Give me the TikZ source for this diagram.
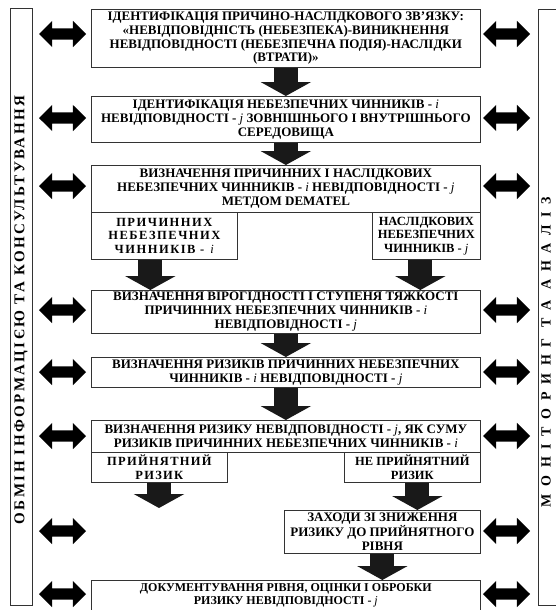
\documentclass[tikz,border=0pt]{standalone}
\usepackage{fontspec}
\setmainfont{Liberation Serif}
\usepackage{tikz}
\usetikzlibrary{positioning, shapes.arrows, arrows.meta}

\newcommand{\idx}[1]{\textnormal{\itshape #1}}

\begin{document}
\begin{tikzpicture}[x=1pt, y=-1pt]
    \tikzstyle{mainbox} = [rectangle, draw=black!80, line width=0.7pt, anchor=north west, align=center, inner sep=0pt, font=\bfseries\fontsize{13}{13.8}\selectfont]
    \tikzstyle{subbox} = [mainbox, font=\bfseries\fontsize{12.5}{13.6}\selectfont]
    \tikzstyle{sidebox} = [rectangle, draw=black!80, line width=0.7pt, inner sep=0pt]
    \tikzstyle{sidetext} = [rotate=90, font=\bfseries\fontsize{15}{16}\selectfont\addfontfeatures{LetterSpace=16}]
    \tikzstyle{dblarrow} = [double arrow, fill=black, draw=none, inner xsep=0pt, inner ysep=5.5pt, minimum height=47pt, double arrow head extend=7.5pt]
    \tikzstyle{blockarrow} = [line width=24pt, black!90, -{Triangle[width=50pt, length=14pt]}]

    \useasboundingbox (0,0) rectangle (555,610);

    % Side boxes
    \node (exchange) [sidebox, anchor=north west, minimum width=22pt, minimum height=597pt] at (10,8) {};
    \node (monitor) [sidebox, anchor=north west, minimum width=22pt, minimum height=596pt] at (538,9) {};
    \node (exchange_t) [sidetext] at (21,310) {ОБМІН ІНФОРМАЦІЄЮ ТА КОНСУЛЬТУВАННЯ};
    \node (monitor_t) [sidetext, font=\bfseries\fontsize{14}{16}\selectfont\addfontfeatures{LetterSpace=55}] at (546,352) {МОНІТОРИНГ ТА АНАЛІЗ};

    % Nodes
    \node (cause) [mainbox, minimum width=389pt, minimum height=58pt] at (91,9) {ІДЕНТИФІКАЦІЯ ПРИЧИНО-НАСЛІДКОВОГО ЗВ’ЯЗКУ:\\
        «НЕВІДПОВІДНІСТЬ (НЕБЕЗПЕКА)-ВИНИКНЕННЯ\\
        НЕВІДПОВІДНОСТІ (НЕБЕЗПЕЧНА ПОДІЯ)-НАСЛІДКИ\\
        (ВТРАТИ)»};
    \node (factors) [mainbox, minimum width=389pt, minimum height=46pt] at (91,96) {ІДЕНТИФІКАЦІЯ НЕБЕЗПЕЧНИХ ЧИННИКІВ - \idx{i}\\
        НЕВІДПОВІДНОСТІ - \idx{j} ЗОВНІШНЬОГО І ВНУТРІШНЬОГО\\
        СЕРЕДОВИЩА};
    \node (dematel) [mainbox, minimum width=389pt, minimum height=47pt] at (91,165) {ВИЗНАЧЕННЯ ПРИЧИННИХ І НАСЛІДКОВИХ\\
        НЕБЕЗПЕЧНИХ ЧИННИКІВ - \idx{i} НЕВІДПОВІДНОСТІ - \idx{j}\\
        МЕТДОМ DEMATEL};
    \node (causal) [subbox, minimum width=146pt, minimum height=47pt, font=\bfseries\fontsize{12.5}{13.6}\selectfont\addfontfeatures{LetterSpace=12}] at (91,212) {ПРИЧИННИХ\\ НЕБЕЗПЕЧНИХ\\ ЧИННИКІВ - \idx{i}};
    \node (effect) [subbox, minimum width=108pt, minimum height=47pt] at (372,212) {НАСЛІДКОВИХ\\ НЕБЕЗПЕЧНИХ\\ ЧИННИКІВ - \idx{j}};
    \node (severity) [mainbox, minimum width=389pt, minimum height=43pt] at (91,290) {ВИЗНАЧЕННЯ ВІРОГІДНОСТІ І СТУПЕНЯ ТЯЖКОСТІ\\
        ПРИЧИННИХ НЕБЕЗПЕЧНИХ ЧИННИКІВ - \idx{i}\\
        НЕВІДПОВІДНОСТІ - \idx{j}};
    \node (risks) [mainbox, minimum width=389pt, minimum height=30pt] at (91,357) {ВИЗНАЧЕННЯ РИЗИКІВ ПРИЧИННИХ НЕБЕЗПЕЧНИХ\\
        ЧИННИКІВ - \idx{i} НЕВІДПОВІДНОСТІ - \idx{j}};
    \node (total) [mainbox, minimum width=389pt, minimum height=32pt] at (91,420) {ВИЗНАЧЕННЯ РИЗИКУ НЕВІДПОВІДНОСТІ - \idx{j}, ЯК СУМУ\\
        РИЗИКІВ ПРИЧИННИХ НЕБЕЗПЕЧНИХ ЧИННИКІВ - \idx{i}};
    \node (accept) [subbox, minimum width=136pt, minimum height=30pt, font=\bfseries\fontsize{12.5}{13.6}\selectfont\addfontfeatures{LetterSpace=10}] at (91,452) {ПРИЙНЯТНИЙ\\ РИЗИК};
    \node (reject) [subbox, minimum width=136pt, minimum height=30pt] at (344,452) {НЕ ПРИЙНЯТНИЙ\\ РИЗИК};
    \node (reduce) [mainbox, minimum width=196pt, minimum height=43pt] at (284,510) {ЗАХОДИ ЗІ ЗНИЖЕННЯ\\ РИЗИКУ ДО ПРИЙНЯТНОГО\\ РІВНЯ};
    \node (report) [mainbox, minimum width=389pt, minimum height=45pt, font=\bfseries\fontsize{12}{13.6}\selectfont] at (91,580) {ДОКУМЕНТУВАННЯ РІВНЯ, ОЦІНКИ І ОБРОБКИ\\
        РИЗИКУ НЕВІДПОВІДНОСТІ - \idx{j}\\ \strut};
    \coordinate (accept_end) at (159,508);

    % Side arrows
    \foreach \y [count=\k] in {34,118,186,310,372,436,531,594} {
        \node (xl\k) [dblarrow] at (62.5,\y) {};
        \node (xr\k) [dblarrow] at (506.5,\y) {};
    }

    % Arrows
    \draw [blockarrow] (cause) -- (factors);
    \draw [blockarrow] (factors) -- (dematel);
    \draw [blockarrow] ([xshift=-14pt]causal.south) -- ([xshift=-14pt]causal.south |- severity.north);
    \draw [blockarrow] ([xshift=-6pt]effect.south) -- ([xshift=-6pt]effect.south |- severity.north);
    \draw [blockarrow] (severity) -- (risks);
    \draw [blockarrow] (risks) -- (total);
    \draw [blockarrow] (accept.south -| accept_end) -- (accept_end);
    \draw [blockarrow] ([xshift=5pt]reject.south) -- ([xshift=5pt]reject.south |- reduce.north);
    \draw [blockarrow] (reduce.south) -- (reduce.south |- report.north);
\end{tikzpicture}
\end{document}
